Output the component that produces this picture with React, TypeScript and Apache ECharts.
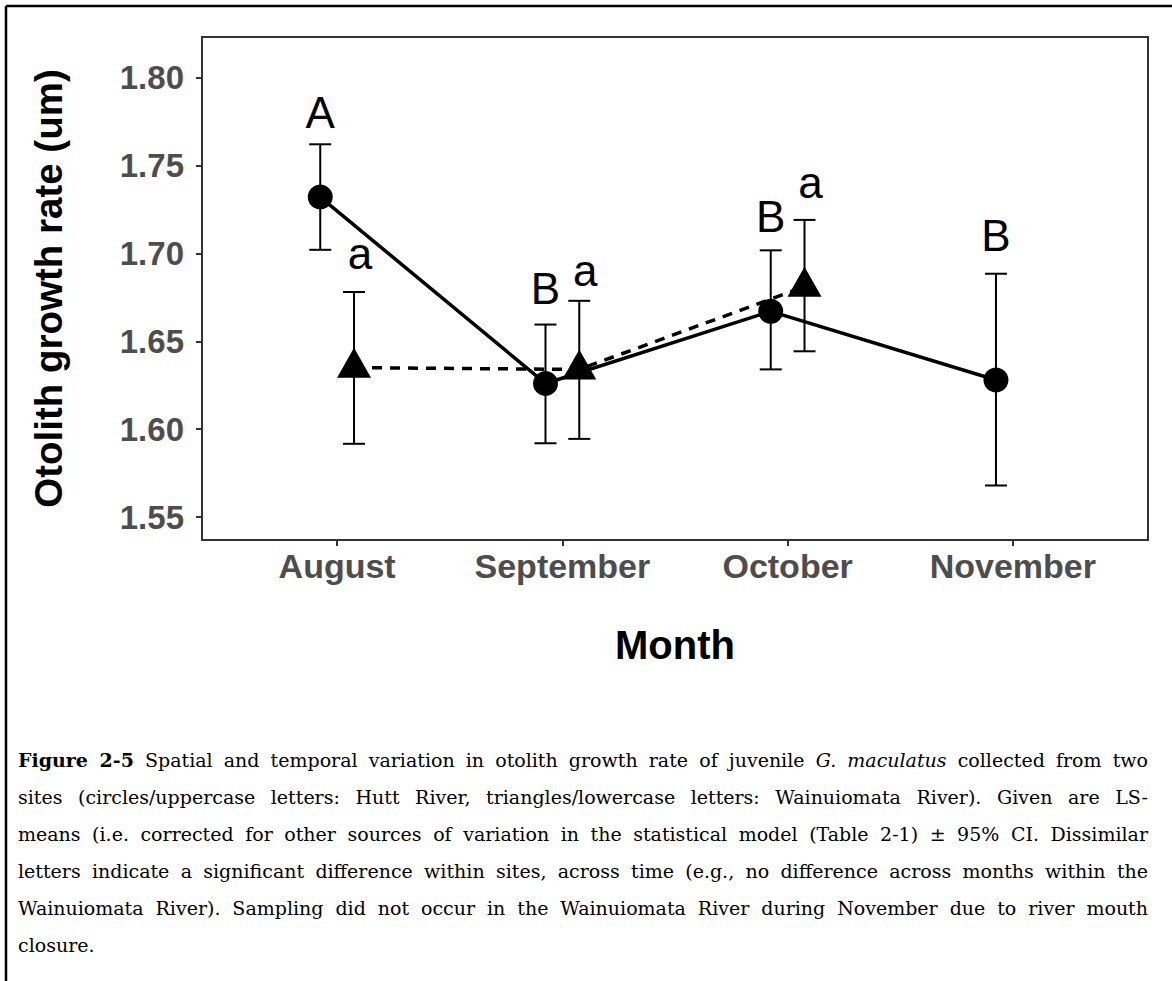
import React, { useEffect, useRef } from "react";
import * as echarts from "echarts";

// ---- data ----
const months = ["August", "September", "October", "November"];
const monthIndex = [0, 1, 2, 3];
const yTicks = [1.55, 1.6, 1.65, 1.7, 1.75, 1.8];

// Hutt River (circles, uppercase letters)
const huttMean = [1.732, 1.626, 1.667, 1.628];
const huttLower = [1.702, 1.592, 1.634, 1.568];
const huttUpper = [1.762, 1.6595, 1.7017, 1.6884];
const huttLetters = ["A", "B", "B", "B"];
const huttLetterY = [1.7715, 1.6715, 1.7125, 1.7017];

// Wainuiomata River (triangles, lowercase letters)
const wainMean = [1.635, 1.634, 1.681];
const wainLower = [1.5917, 1.5945, 1.6443];
const wainUpper = [1.678, 1.673, 1.719];
const wainLetters = ["a", "a", "a"];
const wainLetterY = [1.6913, 1.6819, 1.7315];

const dodge = 0.075;

const captionLines: React.ReactNode[] = [
  <>
    <b>Figure 2-5</b> Spatial and temporal variation in otolith growth rate of juvenile <i>G. maculatus</i> collected from two
  </>,
  <>sites (circles/uppercase letters: Hutt River, triangles/lowercase letters: Wainuiomata River). Given are LS-</>,
  <>means (i.e. corrected for other sources of variation in the statistical model (Table 2-1) ± 95% CI. Dissimilar</>,
  <>letters indicate a significant difference within sites, across time (e.g., no difference across months within the</>,
  <>Wainuiomata River). Sampling did not occur in the Wainuiomata River during November due to river mouth</>,
];
const captionLast = "closure.";

export default function App() {
  const ref = useRef<HTMLDivElement>(null);

  useEffect(() => {
    if (!ref.current) return;
    const chart = echarts.init(ref.current, undefined, { renderer: "svg" });

    const huttPts = monthIndex.map((m, i) => [m - dodge, huttMean[i]]);
    const wainPts = wainMean.map((v, i) => [monthIndex[i] + dodge, v]);
    const errData = [
      ...huttMean.map((_, i) => [monthIndex[i] - dodge, huttLower[i], huttUpper[i]]),
      ...wainMean.map((_, i) => [monthIndex[i] + dodge, wainLower[i], wainUpper[i]]),
    ];
    const letterText = [...huttLetters, ...wainLetters];
    const letterData = [
      ...huttLetterY.map((y, i) => [monthIndex[i] - dodge, y, 0]),
      ...wainLetterY.map((y, i) => [monthIndex[i] + dodge, y, 1]),
    ];

    const option: any = {
      animation: false,
      backgroundColor: "#ffffff",
      textStyle: { fontFamily: "Liberation Sans, Arial, sans-serif" },
      grid: {
        left: 202,
        top: 37,
        right: 1172 - 1148,
        bottom: 981 - 540,
        show: true,
        borderColor: "#333333",
        borderWidth: 2,
        backgroundColor: "transparent",
      },
      xAxis: {
        type: "value",
        min: -0.6,
        max: 3.6,
        splitLine: { show: false },
        axisLine: { show: false, onZero: false },
        axisTick: {
          show: true,
          customValues: monthIndex,
          length: 6,
          lineStyle: { color: "#333333", width: 2 },
        },
        axisLabel: {
          customValues: monthIndex,
          formatter: (v: number) => months[Math.round(v)] ?? "",
          fontSize: 34,
          fontWeight: "bold",
          color: "#4D4D4D",
          margin: 9,
        },
        name: "Month",
        nameLocation: "middle",
        nameGap: 85,
        nameTextStyle: { fontSize: 40, fontWeight: "bold", color: "#000000" },
      },
      yAxis: {
        type: "value",
        min: 1.537,
        max: 1.823,
        splitLine: { show: false },
        axisLine: { show: false, onZero: false },
        axisTick: {
          show: true,
          customValues: yTicks,
          length: 6,
          lineStyle: { color: "#333333", width: 2 },
        },
        axisLabel: {
          customValues: yTicks,
          formatter: (v: number) => v.toFixed(2),
          fontSize: 33,
          fontWeight: "bold",
          color: "#4D4D4D",
          margin: 18,
        },
        name: "Otolith growth rate (um)",
        nameLocation: "middle",
        nameRotate: 90,
        nameGap: 134,
        nameTextStyle: { fontSize: 38.5, fontWeight: "bold", color: "#000000" },
      },
      graphic: [
        {
          type: "line",
          shape: { x1: 6, y1: 6, x2: 1172, y2: 6 },
          style: { stroke: "#000", lineWidth: 2.5 },
          silent: true,
        },
        {
          type: "line",
          shape: { x1: 6, y1: 6, x2: 6, y2: 981 },
          style: { stroke: "#000", lineWidth: 2.5 },
          silent: true,
        },
      ],
      series: [
        {
          name: "Error bars",
          type: "custom",
          data: errData,
          encode: { x: 0, y: [1, 2] },
          z: 2,
          renderItem: (params: any, api: any) => {
            const x = api.value(0);
            const pLo = api.coord([x, api.value(1)]);
            const pHi = api.coord([x, api.value(2)]);
            const hw = 11;
            const st = { stroke: "#000", lineWidth: 2 };
            return {
              type: "group",
              children: [
                { type: "line", shape: { x1: pLo[0], y1: pLo[1], x2: pHi[0], y2: pHi[1] }, style: st },
                { type: "line", shape: { x1: pLo[0] - hw, y1: pLo[1], x2: pLo[0] + hw, y2: pLo[1] }, style: st },
                { type: "line", shape: { x1: pHi[0] - hw, y1: pHi[1], x2: pHi[0] + hw, y2: pHi[1] }, style: st },
              ],
            };
          },
        },
        {
          name: "Hutt River",
          type: "line",
          data: huttPts,
          z: 3,
          lineStyle: { color: "#000", width: 3.5 },
          itemStyle: { color: "#000" },
          symbol: "circle",
          symbolSize: 25,
        },
        {
          name: "Wainuiomata River",
          type: "line",
          data: wainPts,
          z: 3,
          lineStyle: { color: "#000", width: 3.5, type: [10, 8] },
          itemStyle: { color: "#000" },
          symbol: "triangle",
          symbolSize: [34, 30],
          symbolOffset: [0, -5],
        },
        {
          name: "Letters",
          type: "custom",
          data: letterData,
          z: 4,
          renderItem: (params: any, api: any) => {
            const p = api.coord([api.value(0), api.value(1)]);
            const lower = api.value(2) === 1;
            return {
              type: "text",
              x: p[0] + (lower ? 6 : 0),
              y: p[1] + 7,
              style: {
                text: letterText[params.dataIndex],
                fontSize: 44,
                fontFamily: "Liberation Sans, Arial, sans-serif",
                fill: "#000",
                align: "center",
                verticalAlign: "bottom",
              },
            };
          },
        },
      ],
    };

    chart.setOption(option);
    return () => chart.dispose();
  }, []);

  const lineStyle: React.CSSProperties = {
    textAlign: "justify",
    textAlignLast: "justify",
    height: 37,
    lineHeight: "37px",
  };

  return (
    <div style={{ position: "fixed", left: 0, top: 0, width: 1172, height: 981, background: "#fff" }}>
      <div ref={ref} style={{ position: "absolute", left: 0, top: 0, width: 1172, height: 981 }} />
      <div
        style={{
          position: "absolute",
          left: 18,
          top: 742,
          width: 1130,
          fontFamily: "'DejaVu Serif', 'Liberation Serif', serif",
          fontSize: 19,
          color: "#000",
        }}
      >
        {captionLines.map((l, i) => (
          <div key={i} style={lineStyle}>
            {l}
          </div>
        ))}
        <div style={{ height: 37, lineHeight: "37px", textAlign: "left" }}>{captionLast}</div>
      </div>
    </div>
  );
}
